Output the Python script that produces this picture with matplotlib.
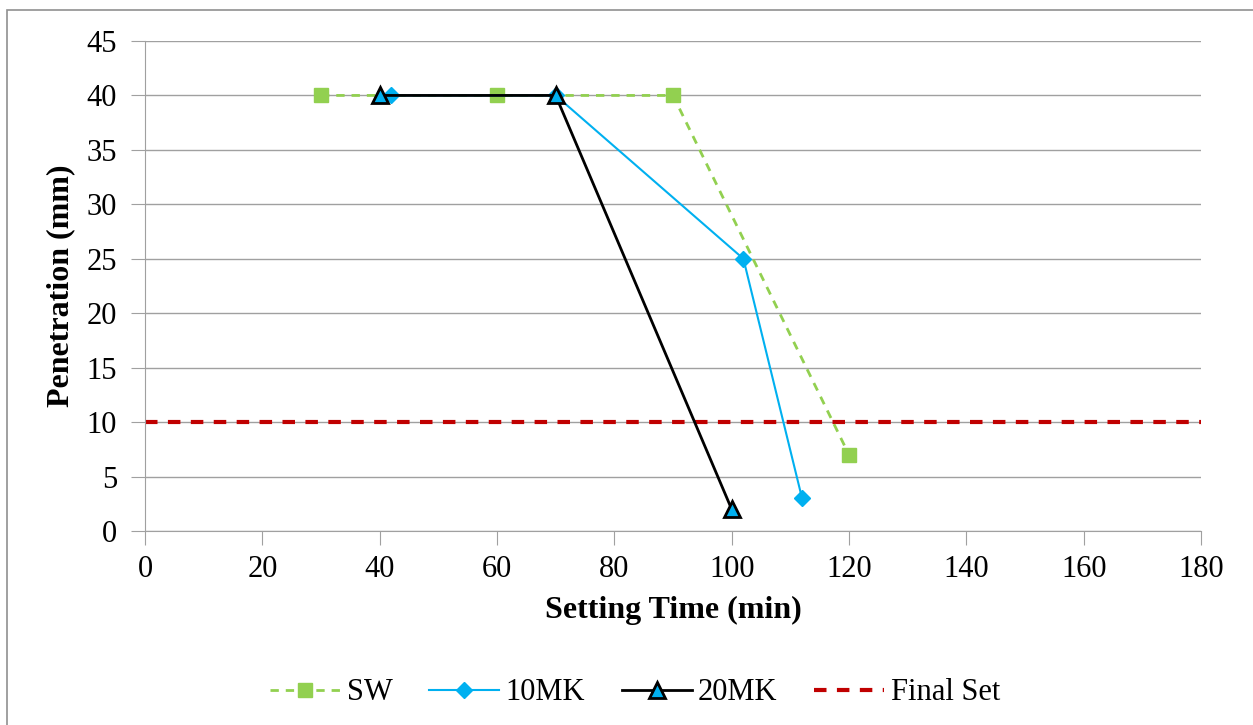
import matplotlib.pyplot as plt
from matplotlib.patches import Rectangle

plt.rcParams['font.family'] = ['Liberation Serif', 'DejaVu Serif']

sw_x = [30, 60, 90, 120]
sw_y = [40, 40, 40, 7]
mk10_x = [42, 70, 102, 112]
mk10_y = [40, 40, 25, 3]
mk20_x = [40, 70, 100]
mk20_y = [40, 40, 2]
final_set = 10
x_range = [0, 180]

fig = plt.figure(figsize=(12.53, 7.25), dpi=100)
ax = fig.add_axes([145 / 1253, 1 - 531 / 725, 1056 / 1253, 490 / 725])

ax.plot(sw_x, sw_y, color='#92D050', linestyle=(0, (3, 2.5)), linewidth=2,
        marker='s', markersize=10, label='SW', zorder=3)
ax.plot(mk10_x, mk10_y, color='#00B0F0', linewidth=1.5,
        marker='D', markersize=8, label='10MK', zorder=4)
ax.plot(mk20_x, mk20_y, color='black', linewidth=2,
        marker='^', markersize=11, markerfacecolor='#00B0F0',
        markeredgecolor='black', markeredgewidth=2, label='20MK', zorder=5)
ax.plot(x_range, [final_set, final_set], color='#C00000', linestyle=(0, (3, 2.5)),
        linewidth=3, label='Final Set', zorder=2)

ax.set_xlim(0, 180)
ax.set_ylim(0, 45)
ax.set_xticks(range(0, 181, 20))
ax.set_yticks(range(0, 46, 5))
ax.grid(axis='y', color='#a0a0a0', linewidth=1)
ax.set_axisbelow(True)
for s in ['top', 'right']:
    ax.spines[s].set_visible(False)
for s in ['left', 'bottom']:
    ax.spines[s].set_color('#a0a0a0')
ax.tick_params(axis='both', direction='out', length=10, color='#a0a0a0',
               labelsize=22)
ax.tick_params(axis='y', pad=10)
ax.tick_params(axis='x', pad=7)

ax.set_xlabel('Setting Time (min)', fontsize=23, fontweight='bold', labelpad=9)
ax.set_ylabel('Penetration (mm)', fontsize=23, fontweight='bold', labelpad=8)

ax.legend(loc='center', bbox_to_anchor=(0.464, -0.33), ncol=4, frameon=False,
          fontsize=22, handlelength=2.3, columnspacing=1.2, handletextpad=0.2)

fig.patches.append(Rectangle((7 / 1253, -0.1), 1.2, 1.1 - 10 / 725,
                             transform=fig.transFigure, fill=False,
                             edgecolor='#909090', linewidth=1.2))

fig.savefig('out.png', dpi=100)
